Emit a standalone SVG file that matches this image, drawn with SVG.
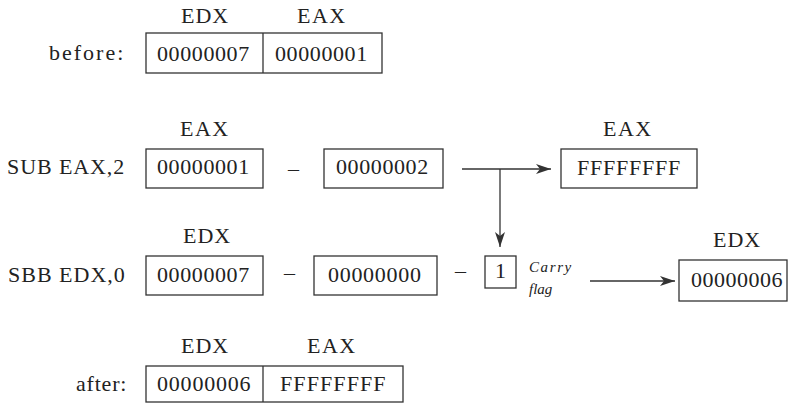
<svg xmlns="http://www.w3.org/2000/svg" width="789" height="404" viewBox="0 0 789 404">
<defs>
<marker id="ah" markerUnits="userSpaceOnUse" markerWidth="16" markerHeight="10" refX="15" refY="5" orient="auto">
<path d="M0,0 L15,5 L0,10 L4,5 z" fill="#333"/>
</marker>
</defs>
<rect width="789" height="404" fill="#fff"/>

<g id="before">
<text font-family="Liberation Serif" font-size="22" fill="#222" x="49" y="60" letter-spacing="2">before:</text>
<text font-family="Liberation Serif" font-size="22" fill="#222" x="181" y="23" letter-spacing="1">EDX</text>
<text font-family="Liberation Serif" font-size="22" fill="#222" x="297" y="23" letter-spacing="1.5">EAX</text>
<rect fill="none" stroke="#333" stroke-width="1.3" x="146" y="33" width="236" height="40"/>
<line stroke="#333" stroke-width="1.3" x1="263" y1="33" x2="263" y2="73"/>
<text font-family="Liberation Serif" font-size="22" fill="#222" x="157" y="61" letter-spacing="0.6">00000007</text>
<text font-family="Liberation Serif" font-size="22" fill="#222" x="275" y="61" letter-spacing="0.6">00000001</text>
</g>

<g id="sub">
<text font-family="Liberation Serif" font-size="22" fill="#222" x="7" y="174" letter-spacing="0.9">SUB EAX,2</text>
<text font-family="Liberation Serif" font-size="22" fill="#222" x="180" y="136" letter-spacing="1.5">EAX</text>
<rect fill="none" stroke="#333" stroke-width="1.3" x="146" y="149" width="117" height="39"/>
<text font-family="Liberation Serif" font-size="22" fill="#222" x="157" y="174" letter-spacing="0.6">00000001</text>
<text font-family="Liberation Serif" font-size="22" fill="#222" x="293.5" y="176" text-anchor="middle">&#8211;</text>
<rect fill="none" stroke="#333" stroke-width="1.3" x="324" y="149" width="119" height="39"/>
<text font-family="Liberation Serif" font-size="22" fill="#222" x="336" y="174" letter-spacing="0.6">00000002</text>
</g>

<g id="eax-result">
<text font-family="Liberation Serif" font-size="22" fill="#222" x="603" y="136" letter-spacing="1.5">EAX</text>
<rect fill="none" stroke="#333" stroke-width="1.3" x="561" y="149" width="136" height="39"/>
<text font-family="Liberation Serif" font-size="22" fill="#222" x="577" y="175" letter-spacing="0.75">FFFFFFFF</text>
</g>

<g id="sbb">
<text font-family="Liberation Serif" font-size="22" fill="#222" x="8" y="282" letter-spacing="1">SBB EDX,0</text>
<text font-family="Liberation Serif" font-size="22" fill="#222" x="183" y="243" letter-spacing="1">EDX</text>
<rect fill="none" stroke="#333" stroke-width="1.3" x="146" y="256" width="117" height="39"/>
<text font-family="Liberation Serif" font-size="22" fill="#222" x="157" y="282" letter-spacing="0.6">00000007</text>
<text font-family="Liberation Serif" font-size="22" fill="#222" x="289.5" y="280" text-anchor="middle">&#8211;</text>
<rect fill="none" stroke="#333" stroke-width="1.3" x="314" y="256" width="123" height="39"/>
<text font-family="Liberation Serif" font-size="22" fill="#222" x="328" y="282" letter-spacing="0.7">00000000</text>
<text font-family="Liberation Serif" font-size="22" fill="#222" x="460.5" y="278" text-anchor="middle">&#8211;</text>
</g>

<g id="carry">
<rect fill="none" stroke="#333" stroke-width="1.3" x="485" y="256" width="31" height="32"/>
<text font-family="Liberation Serif" font-size="22" fill="#222" x="500.5" y="278" text-anchor="middle">1</text>
<text font-family="Liberation Serif" font-size="15" font-style="italic" fill="#222" x="529" y="272" letter-spacing="1.6">Carry</text>
<text font-family="Liberation Serif" font-size="15" font-style="italic" fill="#222" x="529" y="294">flag</text>
</g>

<g id="edx-result">
<text font-family="Liberation Serif" font-size="22" fill="#222" x="713" y="247" letter-spacing="1">EDX</text>
<rect fill="none" stroke="#333" stroke-width="1.3" x="679" y="260" width="108" height="41"/>
<text font-family="Liberation Serif" font-size="22" fill="#222" x="691" y="287" letter-spacing="0.5">00000006</text>
</g>

<g id="after">
<text font-family="Liberation Serif" font-size="22" fill="#222" x="76" y="391" letter-spacing="0.8">after:</text>
<text font-family="Liberation Serif" font-size="22" fill="#222" x="181" y="353" letter-spacing="1">EDX</text>
<text font-family="Liberation Serif" font-size="22" fill="#222" x="307" y="353" letter-spacing="1.5">EAX</text>
<rect fill="none" stroke="#333" stroke-width="1.3" x="146" y="366" width="257" height="36"/>
<line stroke="#333" stroke-width="1.3" x1="263" y1="366" x2="263" y2="402"/>
<text font-family="Liberation Serif" font-size="22" fill="#222" x="157" y="391" letter-spacing="0.8">00000006</text>
<text font-family="Liberation Serif" font-size="22" fill="#222" x="280" y="391" letter-spacing="1.1">FFFFFFFF</text>
</g>

<g id="connectors" stroke="#333" stroke-width="1.3" fill="none">
<line x1="462" y1="169" x2="551" y2="169" marker-end="url(#ah)"/>
<line x1="500" y1="169" x2="500" y2="247" marker-end="url(#ah)"/>
<line x1="590" y1="281" x2="675" y2="281" marker-end="url(#ah)"/>
</g>
</svg>
